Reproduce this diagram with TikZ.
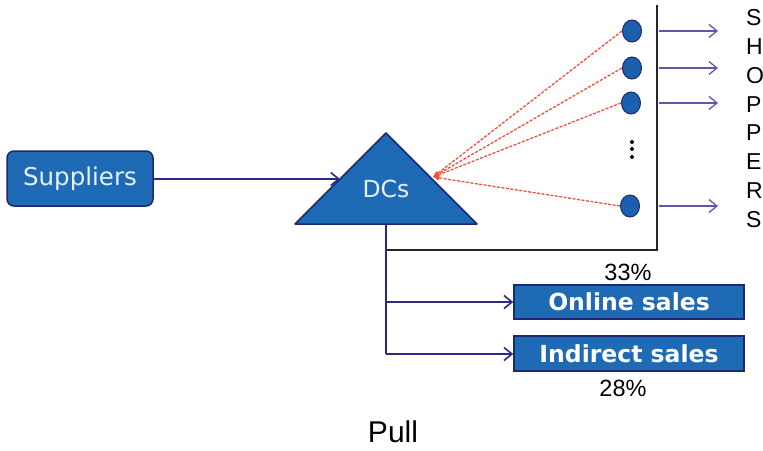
\documentclass[tikz,border=0pt]{standalone}
\usepackage{fontspec}
\setmainfont{Liberation Sans}
\newfontfamily\boxfont{DejaVu Sans}
\usetikzlibrary{arrows.meta,shapes.geometric}
\definecolor{boxfill}{RGB}{31,106,181}
\definecolor{dotfill}{RGB}{28,95,172}
\definecolor{boxline}{RGB}{26,42,108}
\definecolor{navyarrow}{RGB}{43,42,128}
\definecolor{lightarrow}{RGB}{90,90,168}
\definecolor{reddash}{RGB}{240,80,60}
\definecolor{paletext}{RGB}{232,240,248}
\tikzset{
  bluebox/.style={draw=boxline, line width=1.5pt, fill=boxfill, inner sep=0pt},
  navyline/.style={draw=navyarrow, line width=1.6pt},
  navyarr/.style={navyline, -{Straight Barb[length=8pt,width=13pt,line width=1.6pt]}},
  lightarr/.style={draw=lightarrow, line width=1.3pt, -{Straight Barb[length=8pt,width=13pt,line width=1.3pt]}},
  redarr/.style={draw=reddash, line width=1.3pt, dash pattern=on 3pt off 1.5pt, -{Latex[length=6pt,width=6pt]}},
  dotnode/.style={ellipse, draw=boxline, line width=1pt, fill=dotfill, minimum width=19pt, minimum height=22pt, inner sep=0pt},
  letter/.style={anchor=west, inner sep=0pt, font=\fontsize{23}{23}\selectfont},
  pct/.style={inner sep=0pt, font=\fontsize{23.5}{23.5}\selectfont}
}
\begin{document}
\begin{tikzpicture}[x=1pt,y=-1pt]
\useasboundingbox (0,0) rectangle (763,450);
% Suppliers
\node[bluebox, rounded corners=7pt, minimum width=146pt, minimum height=55pt,
  font=\boxfont\fontsize{24.5}{24.5}\selectfont, text=paletext] (sup) at (80,178.5) {Suppliers};
% DCs triangle
\coordinate (apex) at (386,133);
\coordinate (bl) at (295,224);
\coordinate (br) at (477,224);
\coordinate (leftin) at (340,179);
\coordinate (rightin) at (433,177);
\coordinate (base) at (386,224);
\fill[boxfill, draw=boxline, line width=1.5pt, line join=round] (apex) -- (br) -- (bl) -- cycle;
\node[font=\boxfont\fontsize{23.5}{23.5}\selectfont, text=paletext, inner sep=0pt] (dcs) at (386,189) {DCs};
\draw[navyarr] (sup.east |- leftin) -- (leftin);
% black frame
\coordinate (ftop) at (657,5);
\coordinate (fcorner) at (657,250);
\coordinate (fleft) at (386,250);
\draw[black!85, line width=1.6pt] (ftop) -- (fcorner) -- (fleft);
% store dots
\node[dotnode] (d1) at (632,31) {};
\node[dotnode] (d2) at (632,68) {};
\node[dotnode] (d3) at (631,103) {};
\node[dotnode] (d4) at (630,206) {};
\foreach \yy in {142,149,157} \fill[black] (632,\yy) circle (2pt);
\foreach \d in {d1,d2,d3,d4} \draw[redarr] (\d.west) -- (rightin);
% arrows to shoppers
\draw[lightarr] (659,31) -- (718,31);
\draw[lightarr] (659,68) -- (718,68);
\draw[lightarr] (659,103) -- (718,103);
\draw[lightarr] (659,206) -- (718,206);
% SHOPPERS
\foreach \ch [count=\i from 0] in {S,H,O,P,P,E,R,S}
  \node[letter] (L\i) at (746,{18+28.75*\i}) {\ch};
% sales boxes
\node[bluebox, minimum width=230pt, minimum height=34pt, text=white,
  font=\boxfont\bfseries\fontsize{23.5}{23.5}\selectfont] (online) at (629,302) {Online sales};
\node[bluebox, minimum width=230pt, minimum height=35pt, text=white,
  font=\boxfont\bfseries\fontsize{23.5}{23.5}\selectfont] (indirect) at (629,353.5) {Indirect sales};
\coordinate (j1) at (386,302);
\coordinate (j2) at (386,354);
\draw[navyline] (base) -- (j2);
\draw[navyarr] (j1) -- (online.west);
\draw[navyarr] (j2) -- (indirect.west |- j2);
\node[pct] (p33) at (628,272) {33\%};
\node[pct] (p28) at (623,388) {28\%};
\node[inner sep=0pt, font=\fontsize{30}{30}\selectfont] (pull) at (393,432) {Pull};
\end{tikzpicture}
\end{document}
